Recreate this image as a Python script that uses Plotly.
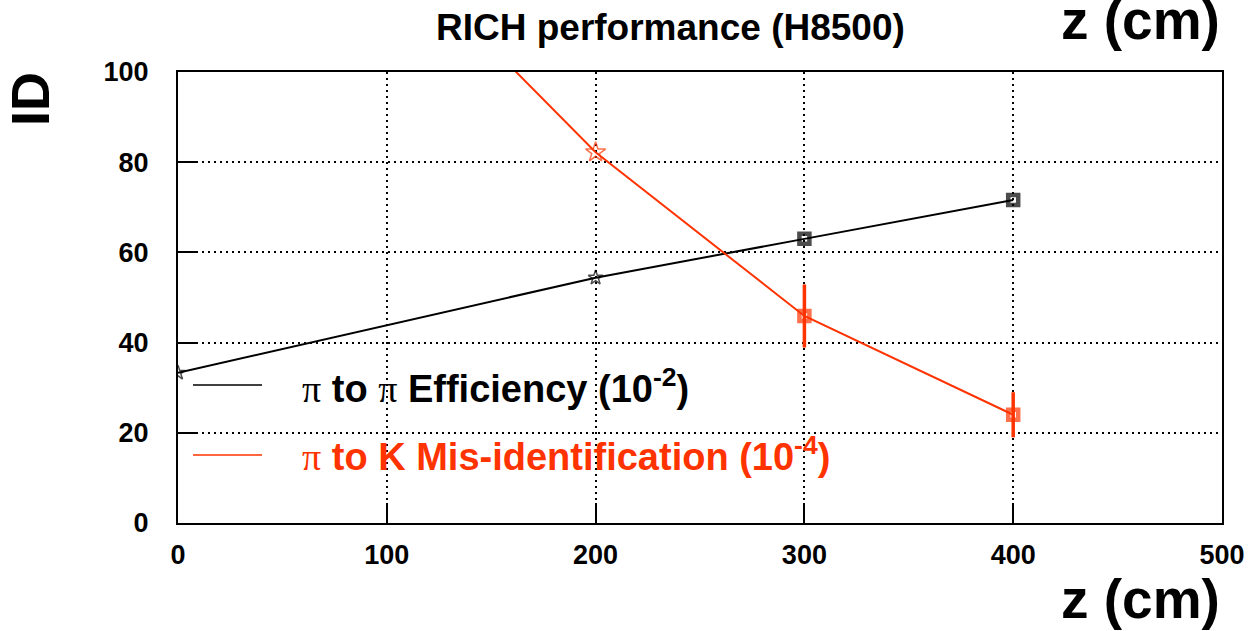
import plotly.graph_objects as go

# ---- data ----
z_eff = [0, 200, 300, 400]
eff = [33.3, 54.4, 63.0, 71.6]

z_mis = [100, 200, 300, 400]
mis = [129.0, 82.2, 45.9, 24.0]
mis_err = [0, 0, 7.0, 5.0]

x_ticks = [0, 100, 200, 300, 400, 500]
y_ticks = [0, 20, 40, 60, 80, 100]

title_text = "RICH performance (H8500)"
x_title = "z (cm)"
y_title = "ID"
leg_eff = "π to π Efficiency (10<sup>-2</sup>)"
leg_mis = "π to K Mis-identification (10<sup>-4</sup>)"

RED = "#ff3300"
FONT = "Liberation Sans"

fig = go.Figure()

fig.add_trace(go.Scatter(
    x=z_eff, y=eff, mode="lines+markers",
    line=dict(color="black", width=2),
    marker=dict(symbol=["star-open", "star-open", "square-open", "square-open"],
                size=[11, 11, 10, 10], color="black",
                line=dict(color="black", width=[1.5, 1.5, 4.5, 4.5])),
    showlegend=False,
))

fig.add_trace(go.Scatter(
    x=z_mis, y=mis, mode="lines+markers",
    line=dict(color=RED, width=2),
    marker=dict(symbol=["star-open", "star-open", "square-open", "square-open"],
                size=[13, 15, 10, 10], color=RED,
                line=dict(color=RED, width=[1.5, 1.5, 4.5, 4.5])),
    error_y=dict(type="data", array=mis_err, visible=True,
                 color=RED, thickness=3.5, width=0),
    showlegend=False,
))

axis_common = dict(
    showline=True, linecolor="black", linewidth=2, mirror=True,
    ticks="inside", ticklen=20, tickwidth=1.5, tickcolor="black",
    showgrid=True, gridcolor="black", gridwidth=1.6, griddash="2px,4px",
    zeroline=False, automargin=False,
    tickfont=dict(family=FONT, size=27, color="black", weight="bold"),
)

fig.update_xaxes(range=[0, 500], tickvals=x_ticks, ticklabelstandoff=7, **axis_common)
fig.update_yaxes(range=[0, 100], tickvals=y_ticks, ticklabelstandoff=22, **axis_common)

# legend (drawn manually, ROOT style)
fig.add_shape(type="line", xref="paper", yref="paper",
              x0=(193 - 178) / 1044, x1=(262 - 178) / 1044,
              y0=(523 - 385) / 451, y1=(523 - 385) / 451,
              line=dict(color="black", width=1.5))
fig.add_shape(type="line", xref="paper", yref="paper",
              x0=(193 - 178) / 1044, x1=(262 - 178) / 1044,
              y0=(523 - 455) / 451, y1=(523 - 455) / 451,
              line=dict(color=RED, width=1.5))

def pi_fix(s):
    return s.replace("π", '<span style="font-family:Liberation Serif;font-weight:normal">π</span>')

fig.add_annotation(xref="paper", yref="paper", x=(300 - 178) / 1044, y=(523 - 386) / 451,
                   xanchor="left", yanchor="middle", showarrow=False,
                   text=pi_fix(leg_eff),
                   font=dict(family=FONT, size=38, color="black", weight="bold"))
fig.add_annotation(xref="paper", yref="paper", x=(300 - 178) / 1044, y=(523 - 454) / 451,
                   xanchor="left", yanchor="middle", showarrow=False,
                   text=pi_fix(leg_mis),
                   font=dict(family=FONT, size=38, color=RED, weight="bold"))

# title
fig.add_annotation(xref="paper", yref="paper", x=(670 - 178) / 1044, y=(523 - 28) / 451,
                   xanchor="center", yanchor="middle", showarrow=False,
                   text=title_text,
                   font=dict(family=FONT, size=37, color="black", weight="bold"))

# axis titles (ROOT style placement)
fig.add_annotation(xref="paper", yref="paper", x=1.0, y=(523 - 599) / 451,
                   xanchor="right", yanchor="middle", showarrow=False,
                   text=x_title,
                   font=dict(family=FONT, size=55, color="black", weight="bold"))
fig.add_annotation(xref="paper", yref="paper", x=1.0, y=(523 - 0) / 451,
                   xanchor="right", yanchor="top", showarrow=False, yshift=13,
                   text=x_title,
                   font=dict(family=FONT, size=55, color="black", weight="bold"))
fig.add_annotation(xref="paper", yref="paper", x=(30 - 178) / 1044, y=(523 - 99) / 451,
                   xanchor="center", yanchor="middle", showarrow=False, textangle=-90,
                   text=y_title,
                   font=dict(family=FONT, size=54, color="black", weight="bold"))

fig.update_layout(
    width=1248, height=631,
    margin=dict(l=178, r=26, t=72, b=108),
    paper_bgcolor="white", plot_bgcolor="white",
    showlegend=False,
)

fig.write_html("out.html")
